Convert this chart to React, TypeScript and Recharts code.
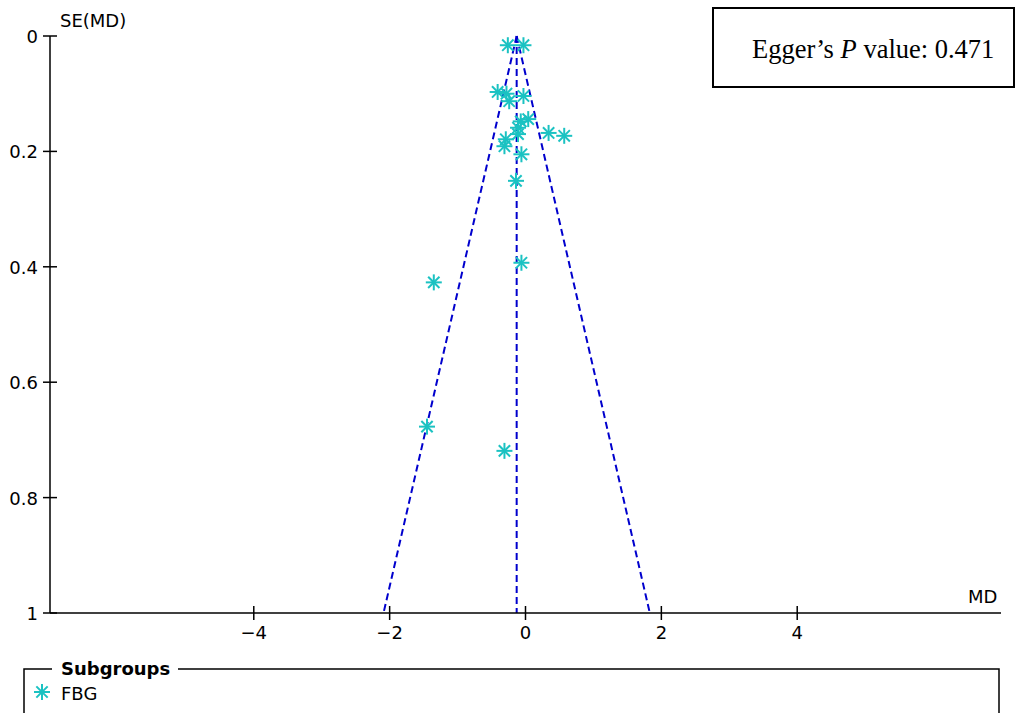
import { ScatterChart, Scatter, XAxis, YAxis, ReferenceLine } from 'recharts'

// funnel plot: mean difference vs its standard error
const mdValues = [
  -0.26, -0.03, -0.41, -0.28, -0.24, -0.03, -0.07, 0.04, -0.11, -0.11,
  -0.29, -0.31, 0.34, 0.57, -0.06, -0.14, -0.06, -1.35, -1.45, -0.31,
]
const seValues = [
  0.016, 0.016, 0.097, 0.1, 0.113, 0.104, 0.148, 0.144, 0.159, 0.17,
  0.179, 0.191, 0.168, 0.173, 0.205, 0.251, 0.393, 0.427, 0.677, 0.719,
]
const pooledMD = -0.13
const seMax = 1
const xTicks = [-4, -2, 0, 2, 4]
const yTicks = [0, 0.2, 0.4, 0.6, 0.8, 1]

const points = mdValues.map((x, i) => ({ x, y: seValues[i] }))

const TEAL = '#1BC2C2'
const NAVY = '#0000CD'
const FONT = '"DejaVu Sans", sans-serif'

function Asterisk({ cx, cy, r = 8 }: any) {
  if (cx == null || cy == null) return null
  const d = r * 0.7071
  return (
    <g stroke={TEAL} strokeWidth={2}>
      <line x1={cx - r} y1={cy} x2={cx + r} y2={cy} />
      <line x1={cx} y1={cy - r} x2={cx} y2={cy + r} />
      <line x1={cx - d} y1={cy - d} x2={cx + d} y2={cy + d} />
      <line x1={cx - d} y1={cy + d} x2={cx + d} y2={cy - d} />
    </g>
  )
}

const fmt = (v: number) => (v < 0 ? `\u2212${Math.abs(v)}` : `${v}`)

function XTick({ x, y, payload }: any) {
  return (
    <g>
      <line x1={x} y1={y - 7} x2={x} y2={y + 7} stroke="#000" strokeWidth={1.5} />
      <text x={x} y={y + 26} textAnchor="middle" fontSize={18} fontFamily={FONT} fill="#000">
        {fmt(payload.value)}
      </text>
    </g>
  )
}

function YTick({ x, y, payload }: any) {
  return (
    <g>
      <line x1={x - 7} y1={y} x2={x + 7} y2={y} stroke="#000" strokeWidth={1.5} />
      <text x={x - 12} y={y + 7} textAnchor="end" fontSize={18} fontFamily={FONT} fill="#000">
        {payload.value}
      </text>
    </g>
  )
}

export default function App() {
  return (
    <div style={{ position: 'absolute', left: 0, top: 0, width: 1024, height: 713, overflow: 'hidden', background: '#fff' }}>
      <ScatterChart width={1024} height={713} margin={{ top: 36, right: 23, left: 0, bottom: 0 }}>
        <XAxis
          type="number" dataKey="x"
          domain={[-7, 7]} ticks={xTicks} allowDataOverflow
          height={100} tickSize={0} tickMargin={0} tickLine={false}
          axisLine={{ stroke: '#000', strokeWidth: 1.5 }}
          tick={<XTick />}
        />
        <YAxis
          type="number" dataKey="y"
          domain={[0, seMax]} ticks={yTicks} reversed allowDataOverflow
          width={50} tickSize={0} tickMargin={0} tickLine={false}
          axisLine={{ stroke: '#000', strokeWidth: 1.5 }}
          tick={<YTick />}
        />
        <Scatter data={points} shape={<Asterisk />} isAnimationActive={false} />
        <ReferenceLine
          segment={[{ x: pooledMD, y: 0 }, { x: pooledMD - 1.96 * seMax, y: seMax }]}
          stroke={NAVY} strokeWidth={2} strokeDasharray="7 4"
        />
        <ReferenceLine
          segment={[{ x: pooledMD, y: 0 }, { x: pooledMD + 1.96 * seMax, y: seMax }]}
          stroke={NAVY} strokeWidth={2} strokeDasharray="7 4"
        />
        <ReferenceLine
          segment={[{ x: pooledMD, y: 0 }, { x: pooledMD, y: seMax }]}
          stroke={NAVY} strokeWidth={2} strokeDasharray="7 4"
        />
      </ScatterChart>

      <svg width={1024} height={713} style={{ position: 'absolute', left: 0, top: 0, pointerEvents: 'none' }}>
        <text x={60} y={27} fontSize={18} fontFamily={FONT} fill="#000">SE(MD)</text>
        <text x={968} y={603} fontSize={18} fontFamily={FONT} fill="#000">MD</text>

        <rect x={713} y={8} width={301} height={79} fill="#fff" stroke="#000" strokeWidth={2} />
        <text x={752} y={58} fontSize={26.5} fontFamily='"Liberation Serif", serif' fill="#000">
          Egger’s <tspan fontStyle="italic">P</tspan> value: 0.471
        </text>

        <path d="M 24 720 L 24 669 L 52 669 M 178 669 L 999 669 L 999 720" fill="none" stroke="#000" strokeWidth={1.5} />
        <text x={61} y={675} fontSize={18} fontWeight="bold" fontFamily={FONT} fill="#000">Subgroups</text>
        <Asterisk cx={42} cy={692} r={8} />
        <text x={61} y={700} fontSize={18} fontFamily={FONT} fill="#000">FBG</text>
      </svg>
    </div>
  )
}
